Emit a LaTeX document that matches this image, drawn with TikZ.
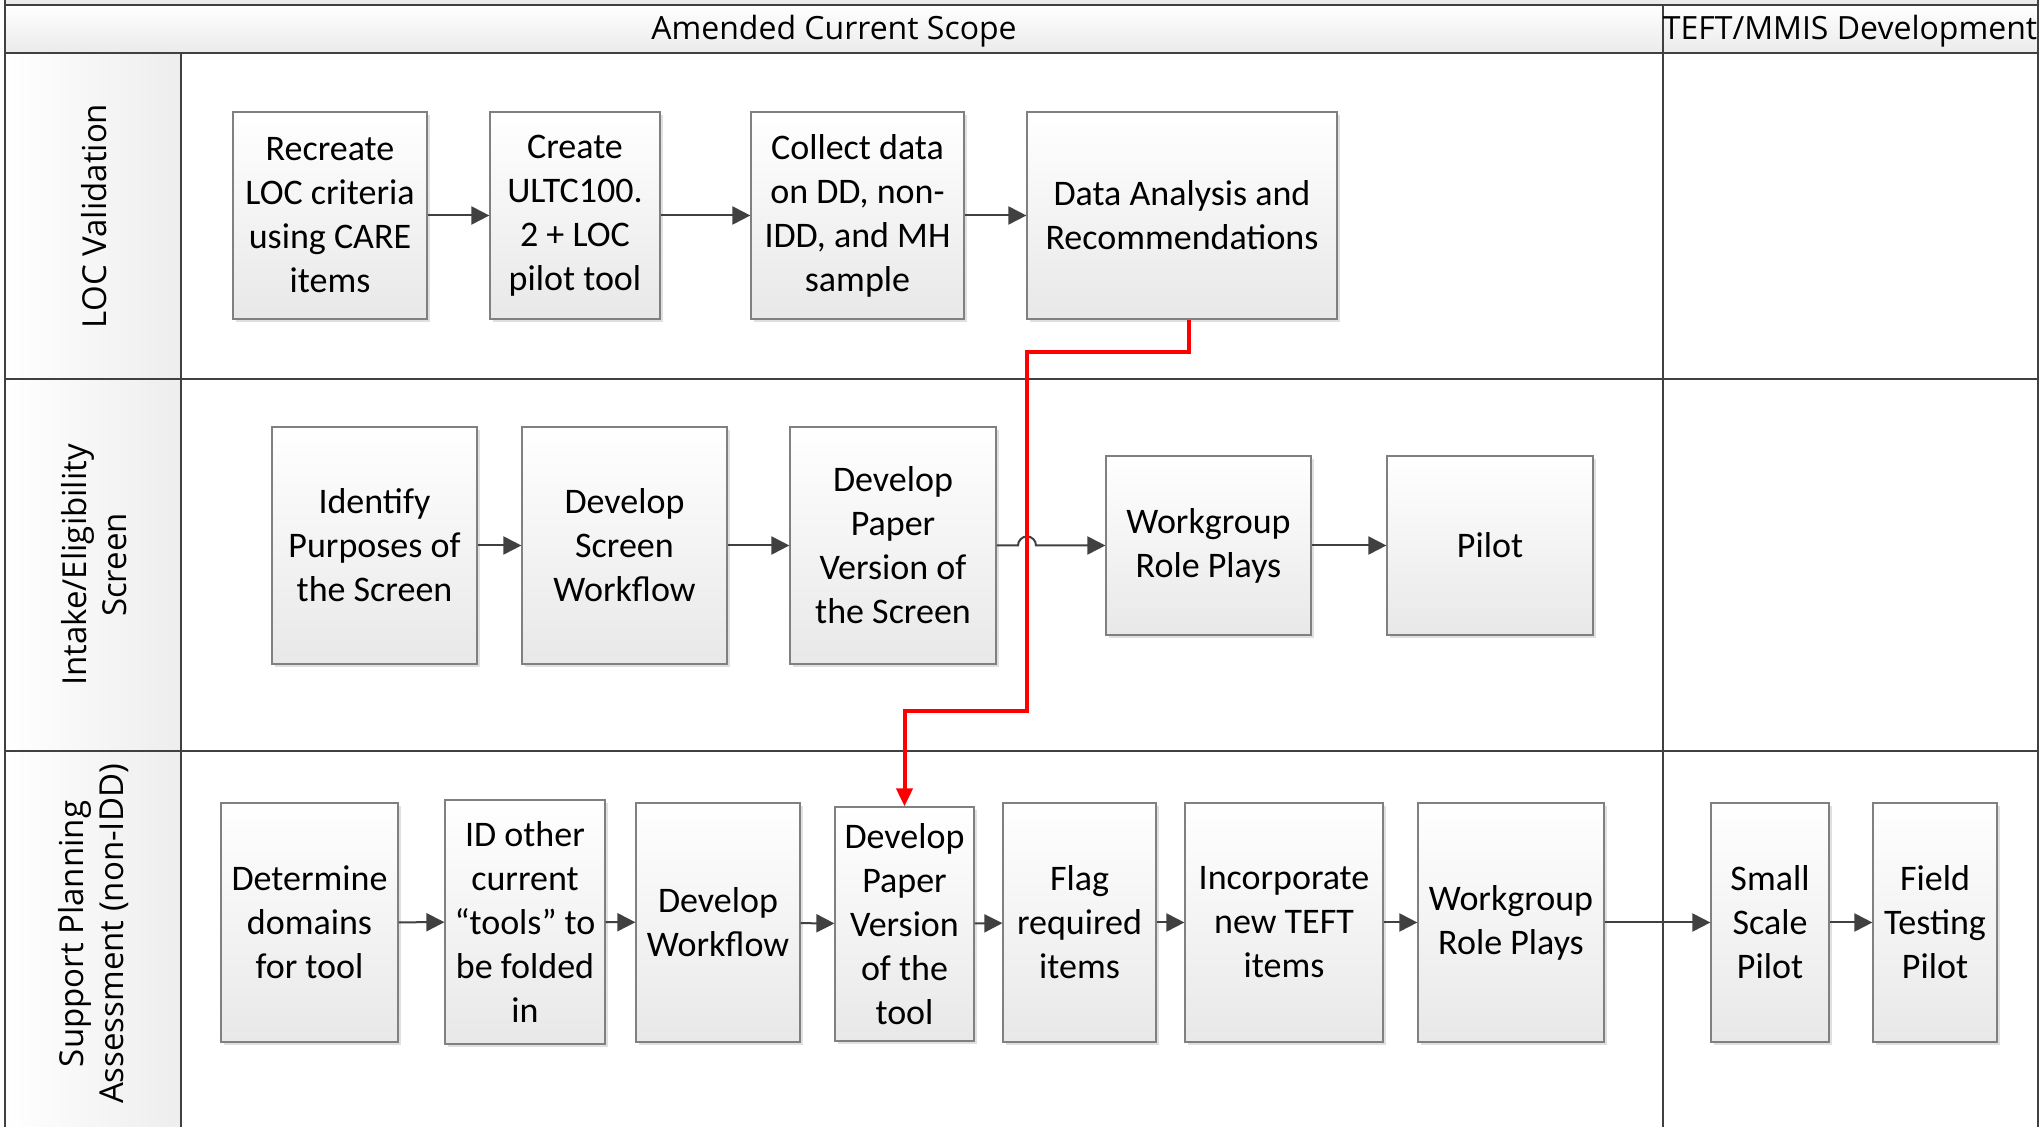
\documentclass[tikz,border=0pt]{standalone}
\usepackage{fontspec}
\setmainfont{Carlito}
\newfontfamily\lanefont{Open Sans}
\usetikzlibrary{positioning}
\usetikzlibrary{arrows.meta}
\usetikzlibrary{shadows}

\tikzset{
	procbox/.style={draw=black!50, line width=0.6pt, top color=white, bottom color=black!9, align=center, inner sep=0pt, font=\fontsize{18}{22}\selectfont, drop shadow={shadow xshift=1.5pt, shadow yshift=-1.5pt, fill=black!12, opacity=1}},
	flow/.style={draw=black!75, line width=1pt, -{Triangle[length=9pt,width=9pt]}},
	redflow/.style={draw=red, line width=2pt, -{Triangle[length=9pt,width=8pt]}},
	headtitle/.style={font=\lanefont\fontsize{16}{20}\selectfont},
	lanetitle/.style={font=\lanefont\fontsize{16.5}{20}\selectfont, align=center},
	frame/.style={draw=black!75, line width=1pt}
}

\begin{document}
\begin{tikzpicture}[x=0.5pt, y=-0.5pt]
		\useasboundingbox (0,0) rectangle (2042,1127);
		\clip (0,0) rectangle (2042,1127);
		% swimlane frame
		\fill[black!8] (5,0) rectangle (2038,5);
		\shade[top color=white, bottom color=black!8] (5,5) rectangle (2038,53);
		\shade[left color=white, right color=black!7] (5,53) rectangle (181,1180);
		\draw[frame] (5,0) -- (5,1180);
		\draw[frame] (2038,0) -- (2038,1180);
		\draw[frame] (5,5) -- (2038,5);
		\draw[frame] (5,53) -- (2038,53);
		\draw[frame] (5,379) -- (2038,379);
		\draw[frame] (5,751) -- (2038,751);
		\draw[frame] (181,53) -- (181,1180);
		\draw[frame] (1663,5) -- (1663,1180);
		\node[headtitle] at (834,31) (scope) {Amended Current Scope};
		\node[headtitle] at (1850,31) (teft) {TEFT/MMIS Development};
		\node[lanetitle, rotate=90] at (94,216) (loclane) {LOC Validation};
		\node[lanetitle, rotate=90] at (94,565) (intakelane) {Intake/Eligibility\\Screen};
		\node[lanetitle, rotate=90] at (94,934) (supportlane) {Support Planning\\Assessment (non-IDD)};
		% LOC validation
		\node[procbox, minimum width=97pt, minimum height=103.5pt] at (330,215.5) (recreate) {Recreate\\LOC criteria\\using CARE\\items};
		\node[procbox, minimum width=85pt, minimum height=103.5pt] at (575,215.5) (ultc) {Create\\ULTC100.\\2 + LOC\\pilot tool};
		\node[procbox, minimum width=106.5pt, minimum height=103.5pt] at (857.5,215.5) (collect) {Collect data\\on DD, non-\\IDD, and MH\\sample};
		\node[procbox, minimum width=155pt, minimum height=103.5pt] at (1182,215.5) (analysis) {Data Analysis and\\Recommendations};
		% intake screen
		\node[procbox, minimum width=102.5pt, minimum height=118.5pt] at (374.5,545.5) (purposes) {Identify\\Purposes of\\the Screen};
		\node[procbox, minimum width=102.5pt, minimum height=118.5pt] at (624.5,545.5) (screenwf) {Develop\\Screen\\Workflow};
		\node[procbox, minimum width=103pt, minimum height=118.5pt] at (893,545.5) (paperscreen) {Develop\\Paper\\Version of\\the Screen};
		\node[procbox, minimum width=102.5pt, minimum height=89.5pt] at (1208.5,545.5) (roleplay) {Workgroup\\Role Plays};
		\node[procbox, minimum width=103pt, minimum height=89.5pt] at (1490,545.5) (pilot) {Pilot};
		% support planning
		\node[procbox, minimum width=88.5pt, minimum height=119.5pt] at (309.5,922.5) (domains) {Determine\\domains\\for tool};
		\node[procbox, minimum width=80pt, minimum height=122pt] at (525,922) (othertools) {ID other\\current\\“tools” to\\be folded\\in};
		\node[procbox, minimum width=82pt, minimum height=119.5pt] at (718,922.5) (workflow) {Develop\\Workflow};
		\node[procbox, minimum width=69.5pt, minimum height=117pt] at (904.5,924) (papertool) {Develop\\Paper\\Version\\of the\\tool};
		\node[procbox, minimum width=76.5pt, minimum height=119.5pt] at (1079.5,922.5) (flag) {Flag\\required\\items};
		\node[procbox, minimum width=99pt, minimum height=119.5pt] at (1284,922.5) (teftitems) {Incorporate\\new TEFT\\items};
		\node[procbox, minimum width=93pt, minimum height=119.5pt] at (1511,922.5) (roleplaytwo) {Workgroup\\Role Plays};
		\node[procbox, minimum width=59pt, minimum height=119.5pt] at (1770,922.5) (smallpilot) {Small\\Scale\\Pilot};
		\node[procbox, minimum width=62pt, minimum height=119.5pt] at (1935,922.5) (fieldpilot) {Field\\Testing\\Pilot};
		% connectors
		\draw[flow] (recreate) -- (ultc);
		\draw[flow] (ultc) -- (collect);
		\draw[flow] (collect) -- (analysis);
		\draw[flow] (purposes) -- (screenwf);
		\draw[flow] (screenwf) -- (paperscreen);
		\coordinate (hop) at (1018,545.5);
		\draw[flow] (paperscreen.east) -- (hop) arc[start angle=180, end angle=0, radius=4.5pt] -- (roleplay.west);
		\draw[flow] (roleplay) -- (pilot);
		\draw[flow] (domains) -- (othertools);
		\draw[flow] (othertools) -- (workflow);
		\draw[flow] (workflow) -- (papertool);
		\draw[flow] (papertool) -- (flag);
		\draw[flow] (flag) -- (teftitems);
		\draw[flow] (teftitems) -- (roleplaytwo);
		\draw[flow] (roleplaytwo) -- (smallpilot);
		\draw[flow] (smallpilot) -- (fieldpilot);
		\coordinate (redtop) at (1027,352);
		\coordinate (redlow) at (1027,711);
		\draw[redflow] ([xshift=3.5pt]analysis.south) |- (redtop) -- (redlow) -| (papertool.north);
	\end{tikzpicture}
\end{document}
